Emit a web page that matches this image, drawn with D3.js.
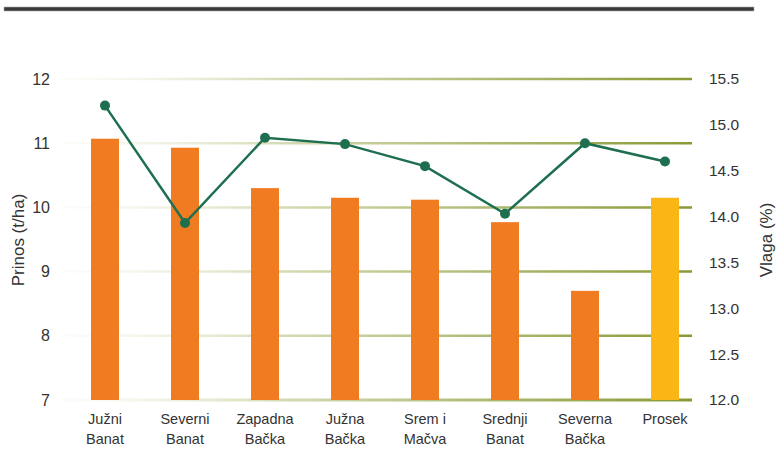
<!DOCTYPE html>
<html>
<head>
<meta charset="utf-8">
<script src="https://cdn.jsdelivr.net/npm/d3@7"></script>
<style>
  body { margin: 0; background: #fff; }
  text { font-family: "Liberation Sans", Arial, sans-serif; fill: #333; }
</style>
</head>
<body>
<div id="chart"></div>
<script>
// data
var regions = [["Južni", "Banat"], ["Severni", "Banat"], ["Zapadna", "Bačka"], ["Južna", "Bačka"],
               ["Srem i", "Mačva"], ["Srednji", "Banat"], ["Severna", "Bačka"], ["Prosek"]];
var yieldVals = [11.07, 10.93, 10.30, 10.15, 10.12, 9.77, 8.70, 10.15];
var moistVals = [15.21, 13.93, 14.86, 14.79, 14.55, 14.03, 14.80, 14.60];
var leftTicks = [7, 8, 9, 10, 11, 12];
var rightTicks = [12.0, 12.5, 13.0, 13.5, 14.0, 14.5, 15.0, 15.5];

var svgWidth = 778, svgHeight = 470;
var svg = d3.select("#chart").append("svg")
    .attr("width", svgWidth)
    .attr("height", svgHeight);

// top rule
svg.append("rect")
    .attr("x", 4).attr("y", 7).attr("width", 750).attr("height", 4)
    .attr("fill", "#3a3a3a").attr("stroke", "#aaa").attr("stroke-width", 0.6);

var keys = regions.map(function (d, i) { return i; });
var x = d3.scaleBand().domain(keys).range([65, 705]).paddingInner(0.65).paddingOuter(0.325);
var yL = d3.scaleLinear().domain([7, 12]).range([400, 79]);
var yR = d3.scaleLinear().domain([12, 15.5]).range([400, 79]);

// gradient for grid lines
var grad = svg.append("defs").append("linearGradient")
    .attr("id", "gridGrad")
    .attr("gradientUnits", "userSpaceOnUse")
    .attr("x1", 60).attr("x2", 692).attr("y1", 0).attr("y2", 0);
grad.append("stop").attr("offset", "0%").attr("stop-color", "#f4f4e8").attr("stop-opacity", 0.2);
grad.append("stop").attr("offset", "35%").attr("stop-color", "#d6dab4");
grad.append("stop").attr("offset", "100%").attr("stop-color", "#899a35");

svg.append("g").selectAll("line")
    .data(leftTicks)
    .enter().append("line")
    .attr("x1", 60).attr("x2", 692)
    .attr("y1", function (d) { return yL(d); })
    .attr("y2", function (d) { return yL(d); })
    .attr("stroke", "url(#gridGrad)")
    .attr("stroke-width", function (d) { return d === 7 ? 3 : 2.5; });

// left axis labels
var leftAxis = d3.axisLeft(yL).tickValues(leftTicks).tickSize(0).tickPadding(0)
    .tickFormat(d3.format("d"));
var gl = svg.append("g").attr("transform", "translate(50,0)").call(leftAxis);
gl.select(".domain").remove();
gl.selectAll("text").style("font-size", "16px").attr("fill", "#333");

// right axis labels
var rightAxis = d3.axisRight(yR).tickValues(rightTicks).tickSize(0).tickPadding(0)
    .tickFormat(d3.format(".1f"));
var gr = svg.append("g").attr("transform", "translate(709,0)").call(rightAxis);
gr.select(".domain").remove();
gr.selectAll("text").style("font-size", "15.5px").attr("fill", "#333");

// bars
svg.append("g").selectAll("rect")
    .data(yieldVals)
    .enter().append("rect")
    .attr("x", function (d, i) { return x(i); })
    .attr("width", x.bandwidth())
    .attr("y", function (d) { return yL(d); })
    .attr("height", function (d) { return yL(7) - yL(d); })
    .attr("fill", function (d, i) { return i === yieldVals.length - 1 ? "#fbb615" : "#f17b20"; });

// moisture line
var line = d3.line()
    .x(function (d, i) { return x(i) + x.bandwidth() / 2; })
    .y(function (d) { return yR(d); });

svg.append("path")
    .datum(moistVals)
    .attr("d", line)
    .attr("fill", "none")
    .attr("stroke", "#1e6f4f")
    .attr("stroke-width", 2.5);

svg.append("g").selectAll("circle")
    .data(moistVals)
    .enter().append("circle")
    .attr("cx", function (d, i) { return x(i) + x.bandwidth() / 2; })
    .attr("cy", function (d) { return yR(d); })
    .attr("r", 5)
    .attr("fill", "#1e6f4f");

// category labels
var cat = svg.append("g").selectAll("text")
    .data(regions)
    .enter().append("text")
    .attr("text-anchor", "middle")
    .attr("x", function (d, i) { return x(i) + x.bandwidth() / 2; })
    .attr("y", 424)
    .style("font-size", "14.5px");
cat.selectAll("tspan")
    .data(function (d) { return d; })
    .enter().append("tspan")
    .attr("x", function () { return d3.select(this.parentNode).attr("x"); })
    .attr("dy", function (d, i) { return i === 0 ? 0 : 20; })
    .text(function (d) { return d; });

// axis titles
svg.append("text")
    .attr("transform", "translate(24,240) rotate(-90)")
    .attr("text-anchor", "middle")
    .style("font-size", "17px")
    .text("Prinos (t/ha)");

svg.append("text")
    .attr("transform", "translate(772,240) rotate(-90)")
    .attr("text-anchor", "middle")
    .style("font-size", "17px")
    .text("Vlaga (%)");
</script>
</body>
</html>
